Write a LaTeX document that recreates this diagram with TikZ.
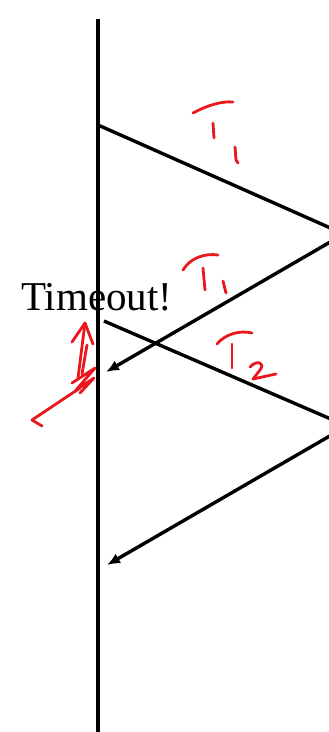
\documentclass[tikz,border=0pt]{standalone}
\usepackage{fontspec}
\setmainfont{Liberation Serif}
\usetikzlibrary{arrows.meta}
\definecolor{inkred}{RGB}{232,24,30}
\tikzset{
  msg/.style={line width=3.4pt, black},
  msgarrow/.style={msg, -{Latex[length=13pt,width=11pt]}},
  ink/.style={line width=2.8pt, inkred, line cap=round, line join=round}
}
\begin{document}
\begin{tikzpicture}[x=1pt, y=-1pt]
        \useasboundingbox (0,0) rectangle (329,732);
        \clip (0,0) rectangle (329,732);

        % time line of the sender
        \coordinate (top) at (98,19);
        \coordinate (bot) at (98,740);
        \draw[msg] (top) -- (bot);

        % first packet and its ack
        \coordinate (s1) at (98,125);
        \coordinate (r1) at (344,234);
        \coordinate (a1) at (106,372);
        \draw[msg] (s1) -- (r1);
        \draw[msgarrow] (r1) -- (a1);

        % retransmission and its ack
        \coordinate (s2) at (104,321);
        \coordinate (r2) at (347,426);
        \coordinate (a2) at (107,565);
        \draw[msg] (s2) -- (r2);
        \draw[msgarrow] (r2) -- (a2);

        \node[anchor=base west, inner sep=0pt, font=\fontsize{41}{41}\selectfont] (timeout) at (21,310) {Timeout!};

        % handwritten T_1
        \draw[ink] (193,113) .. controls (208,105) and (222,101) .. (233,102);
        \draw[ink] (213,123) -- (214,138);
        \draw[ink] (235,147) -- (236,160) -- (238,163);

        % handwritten T_1 again
        \draw[ink] (183,270) .. controls (190,258) and (205,253) .. (218,255);
        \draw[ink] (203,268) -- (205,290);
        \draw[ink] (223,281) -- (226,293);

        % handwritten T_2
        \draw[ink] (217,344) .. controls (225,334) and (240,330) .. (252,333);
        \draw[ink] (232,344) -- (232,368);
        \draw[ink] (250,367) .. controls (256,360) and (266,362) .. (260,370) -- (253,379) -- (276,374);

        % red arrow and scribble at the timeout
        \coordinate (tip) at (85,323);
        \coordinate (foot) at (78,378);
        \draw[ink] (foot) -- (tip);
        \draw[ink] (72,342) -- (tip) -- (93,344);
        \draw[ink] (87,345) -- (82,374);
        \draw[ink] (72,383) -- (95,368) -- (76,390) -- (94,378) -- (80,393);
        \draw[ink] (42,426) -- (32,420) -- (80,388);
\end{tikzpicture}
\end{document}
